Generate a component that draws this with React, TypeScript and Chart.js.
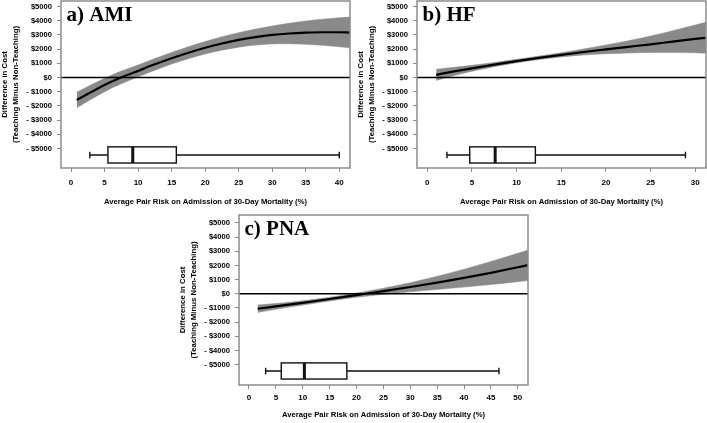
import React, { useEffect, useRef } from 'react';
import { Chart, registerables } from 'chart.js';

Chart.register(...registerables);

// ---------- shared axis text ----------
const yTickValues = [-5000, -4000, -3000, -2000, -1000, 0, 1000, 2000, 3000, 4000, 5000];
const yTickLabels = ['- $5000', '- $4000', '- $3000', '- $2000', '- $1000', '$0', '$1000', '$2000', '$3000', '$4000', '$5000'];
const yTitleLines = ['Difference in Cost', '(Teaching Minus Non-Teaching)'];
const xTitleText = 'Average Pair Risk on Admission of 30-Day Mortality (%)';

// ---------- a) AMI ----------
const amiX = [0.85, 2, 4, 6, 8, 10, 12.5, 15, 17.5, 20, 22.5, 25, 27.5, 30, 32.5, 35, 37.5, 40, 41.6];
const amiFit = [-1580, -1280, -770, -300, 100, 470, 930, 1360, 1750, 2100, 2400, 2650, 2850, 3000, 3100, 3160, 3190, 3190, 3170];
const amiUpper = [-1030, -750, -280, 160, 540, 890, 1340, 1770, 2170, 2540, 2870, 3160, 3410, 3630, 3820, 3980, 4110, 4210, 4260];
const amiLower = [-2130, -1810, -1260, -760, -340, 50, 520, 950, 1330, 1660, 1930, 2140, 2290, 2370, 2380, 2340, 2270, 2170, 2080];
const amiXTicks = [0, 5, 10, 15, 20, 25, 30, 35, 40];
const amiBox = [2.8, 5.5, 9.2, 15.7, 40.0]; // min, q1, median, q3, max

// ---------- b) HF ----------
const hfX = [1, 3, 5, 7.5, 10, 12.5, 15, 17.5, 20, 22.5, 25, 27.5, 30, 31.2];
const hfFit = [190, 430, 650, 910, 1160, 1390, 1600, 1800, 1980, 2160, 2340, 2530, 2720, 2800];
const hfUpper = [580, 720, 860, 1060, 1280, 1510, 1750, 2010, 2290, 2590, 2920, 3300, 3700, 3890];
const hfLower = [-200, 140, 440, 760, 1040, 1270, 1450, 1590, 1670, 1730, 1760, 1760, 1740, 1710];
const hfXTicks = [0, 5, 10, 15, 20, 25, 30];
const hfBox = [2.2, 4.75, 7.6, 12.1, 28.9];

// ---------- c) PNA ----------
const pnaX = [1.6, 5, 10, 15, 20, 25, 30, 35, 40, 45, 50, 51.9];
const pnaFit = [-1060, -890, -640, -370, -90, 190, 480, 790, 1120, 1480, 1870, 2020];
const pnaUpper = [-800, -690, -500, -250, 50, 390, 780, 1230, 1730, 2280, 2860, 3080];
const pnaLower = [-1320, -1090, -800, -510, -250, -40, 140, 300, 470, 650, 850, 930];
const pnaXTicks = [0, 5, 10, 15, 20, 25, 30, 35, 40, 45, 50];
const pnaBox = [3.1, 6.0, 10.3, 18.2, 46.5];

// box plot vertical placement (data units)
const boxTop = -4880;
const boxMid = -5450;
const boxBottom = -6020;
const capHalf = 230;

const SANS = "'Liberation Sans', Arial, sans-serif";
const SERIF = "'Liberation Serif', 'Times New Roman', serif";
const BAND = '#8a8a8a';
const FRAME = '#8c8c8c';
const TEXT = '#000000';

interface PanelCfg {
  title: string;
  x: number[];
  fit: number[];
  upper: number[];
  lower: number[];
  xTicks: number[];
  box: number[];
  xMin: number;
  xMax: number;
  yMin: number;
  yMax: number;
  left: number;
  top: number;
  width: number;
  height: number;
  padTop: number;
  padRight: number;
  xAxisH: number;
  xTickPad: number;
  xTitlePad: number;
}

const panels: PanelCfg[] = [
  {
    title: 'a) AMI', x: amiX, fit: amiFit, upper: amiUpper, lower: amiLower, xTicks: amiXTicks, box: amiBox,
    xMin: -1.5, xMax: 41.6, yMin: -6370, yMax: 5390,
    left: 0, top: 0, width: 355, height: 212, padTop: 1, padRight: 5, xAxisH: 44, xTickPad: 6, xTitlePad: 5.4,
  },
  {
    title: 'b) HF', x: hfX, fit: hfFit, upper: hfUpper, lower: hfLower, xTicks: hfXTicks, box: hfBox,
    xMin: -1.15, xMax: 31.2, yMin: -6370, yMax: 5390,
    left: 356, top: 0, width: 351, height: 212, padTop: 1, padRight: 1, xAxisH: 44, xTickPad: 6, xTitlePad: 5.4,
  },
  {
    title: 'c) PNA', x: pnaX, fit: pnaFit, upper: pnaUpper, lower: pnaLower, xTicks: pnaXTicks, box: pnaBox,
    xMin: -1.86, xMax: 51.9, yMin: -6440, yMax: 5560,
    left: 178, top: 214, width: 355, height: 209, padTop: 1, padRight: 5, xAxisH: 38, xTickPad: 4, xTitlePad: 3,
  },
];

function makeDecor(p: PanelCfg) {
  return {
    id: 'decor',
    afterDatasetsDraw(chart: any) {
      const { ctx, scales } = chart;
      const xs = scales.x;
      const ys = scales.y;
      const [mn, q1, md, q3, mx] = p.box;
      const yT = ys.getPixelForValue(boxTop);
      const yM = ys.getPixelForValue(boxMid);
      const yB = ys.getPixelForValue(boxBottom);
      const cT = ys.getPixelForValue(boxMid + capHalf);
      const cB = ys.getPixelForValue(boxMid - capHalf);
      const px = (v: number) => xs.getPixelForValue(v);
      ctx.save();
      ctx.strokeStyle = '#111';
      ctx.lineWidth = 1.4;
      ctx.beginPath();
      ctx.moveTo(px(mn), yM); ctx.lineTo(px(q1), yM);
      ctx.moveTo(px(q3), yM); ctx.lineTo(px(mx), yM);
      ctx.moveTo(px(mn), cT); ctx.lineTo(px(mn), cB);
      ctx.moveTo(px(mx), cT); ctx.lineTo(px(mx), cB);
      ctx.stroke();
      ctx.fillStyle = '#fff';
      ctx.fillRect(px(q1), yT, px(q3) - px(q1), yB - yT);
      ctx.strokeRect(px(q1), yT, px(q3) - px(q1), yB - yT);
      ctx.lineWidth = 3;
      ctx.beginPath();
      ctx.moveTo(px(md), yT); ctx.lineTo(px(md), yB);
      ctx.stroke();
      ctx.restore();
    },
    afterDraw(chart: any) {
      const { ctx, chartArea } = chart;
      ctx.save();
      ctx.strokeStyle = FRAME;
      ctx.lineWidth = 1.5;
      ctx.strokeRect(chartArea.left, chartArea.top, chartArea.right - chartArea.left, chartArea.bottom - chartArea.top);
      ctx.fillStyle = '#000';
      ctx.font = `bold 21px ${SERIF}`;
      ctx.textAlign = 'left';
      ctx.textBaseline = 'alphabetic';
      ctx.fillText(p.title, chartArea.left + 5.5, chartArea.top + 19.5);
      ctx.restore();
    },
  };
}

function Panel({ p }: { p: PanelCfg }) {
  const ref = useRef<HTMLCanvasElement>(null);
  useEffect(() => {
    const pts = (ys: number[]) => p.x.map((x, i) => ({ x, y: ys[i] }));
    const chart = new Chart(ref.current as HTMLCanvasElement, {
      type: 'line',
      data: {
        datasets: [
          {
            data: pts(p.fit), borderColor: '#000', borderWidth: 2.2, pointRadius: 0, fill: false,
            cubicInterpolationMode: 'monotone',
          },
          {
            data: [{ x: p.xMin, y: 0 }, { x: p.xMax, y: 0 }], borderColor: '#000', borderWidth: 1.5,
            pointRadius: 0, fill: false,
          },
          {
            data: pts(p.upper), borderColor: BAND, borderWidth: 0.5, backgroundColor: BAND, fill: '+1',
            pointRadius: 0, cubicInterpolationMode: 'monotone',
          },
          {
            data: pts(p.lower), borderColor: BAND, borderWidth: 0.5, fill: false,
            pointRadius: 0, cubicInterpolationMode: 'monotone',
          },
        ],
      } as any,
      options: {
        animation: false,
        responsive: false,
        maintainAspectRatio: false,
        devicePixelRatio: 1,
        layout: { padding: { left: 0, right: p.padRight, top: p.padTop, bottom: 0 } },
        plugins: { legend: { display: false }, tooltip: { enabled: false } },
        scales: {
          x: {
            type: 'linear', min: p.xMin, max: p.xMax,
            afterBuildTicks: (ax: any) => { ax.ticks = p.xTicks.map((v) => ({ value: v })); },
            afterFit: (ax: any) => {
              ax.height = p.xAxisH;
              ax.paddingLeft = 0; ax.paddingRight = 0;
            },
            grid: { drawOnChartArea: false, drawTicks: true, tickLength: 4, color: FRAME, lineWidth: 1 },
            border: { display: false },
            ticks: {
              font: { family: SANS, size: 8, weight: 'bold' }, color: TEXT, padding: p.xTickPad,
              maxRotation: 0, autoSkip: false,
              callback: (v: any) => String(v),
            },
            title: {
              display: true, text: xTitleText, color: TEXT,
              font: { family: SANS, size: 7.7, weight: 'bold' }, padding: { top: 0, bottom: p.xTitlePad },
            },
          },
          y: {
            type: 'linear', min: p.yMin, max: p.yMax,
            afterBuildTicks: (ax: any) => { ax.ticks = yTickValues.map((v) => ({ value: v })); },
            afterFit: (ax: any) => {
              ax.width = 61;
              ax.paddingTop = 0; ax.paddingBottom = 0;
            },
            grid: { drawOnChartArea: false, drawTicks: true, tickLength: 4, color: FRAME, lineWidth: 1 },
            border: { display: false },
            ticks: {
              font: { family: SANS, size: 7.6, weight: 'bold' }, color: TEXT, padding: 5, autoSkip: false,
              callback: (v: any) => yTickLabels[yTickValues.indexOf(Number(v))],
            },
            title: {
              display: true, text: yTitleLines, color: TEXT,
              font: { family: SANS, size: 7.8, weight: 'bold', lineHeight: 1.35 }, padding: { top: 0, bottom: 0 },
            },
          },
        },
      } as any,
      plugins: [makeDecor(p)],
    });
    return () => chart.destroy();
  }, [p]);
  return (
    <canvas
      ref={ref}
      width={p.width}
      height={p.height}
      style={{ position: 'absolute', left: p.left, top: p.top, width: p.width, height: p.height }}
    />
  );
}

export default function App() {
  return (
    <div style={{ position: 'absolute', left: 0, top: 0, width: 707, height: 423, background: '#fff', overflow: 'hidden' }}>
      {panels.map((p) => (
        <Panel key={p.title} p={p} />
      ))}
    </div>
  );
}
